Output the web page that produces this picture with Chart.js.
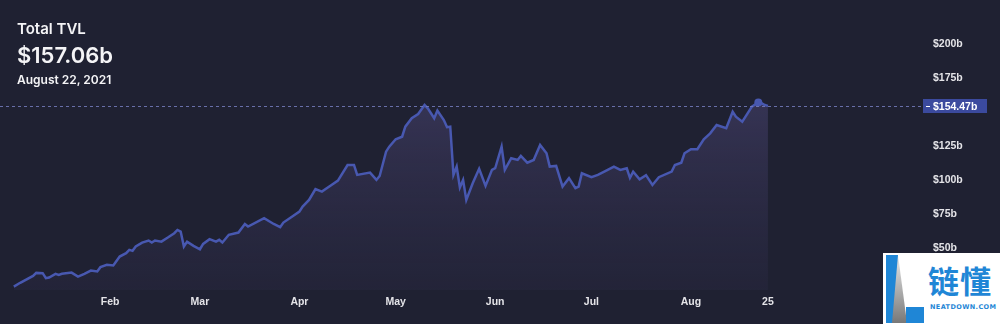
<!DOCTYPE html>
<html>
<head>
<meta charset="utf-8">
<script src="https://cdn.jsdelivr.net/npm/chart.js@4.4.0/dist/chart.umd.min.js"></script>
<style>
  html, body { margin: 0; padding: 0; background: #1f2132; }
  #wrap { position: relative; width: 1000px; height: 324px; overflow: hidden; background: #1f2132; }
  #tvlChart { position: absolute; left: 0; top: 0; }
  .head { position: absolute; left: 17px; color: #f4f4f6; font-family: Inter, "Noto Sans", sans-serif; line-height: 1; white-space: nowrap; }
  #t1 { top: 21px; font-size: 15px; font-weight: 600; }
  #t2 { top: 44px; font-size: 22px; font-weight: 600; }
  #t3 { top: 74px; font-size: 12px; font-weight: 600; }
  #mark { position: absolute; left: 883px; top: 253px; width: 117px; height: 71px; background: #fff; }
  #mark svg { position: absolute; left: 0; top: 0; }
  #mark .cn { position: absolute; left: 45px; top: 11px; font-family: "Noto Sans CJK SC", sans-serif; font-weight: 700; font-size: 31px; line-height: 1; color: #1f86d6; letter-spacing: 1px; }
  #mark .en { position: absolute; left: 47px; top: 51px; font-family: "DejaVu Sans", sans-serif; font-weight: 700; font-size: 6.5px; line-height: 1; color: #1f86d6; letter-spacing: 0.4px; }
</style>
</head>
<body>
<div id="wrap">
  <canvas id="tvlChart" width="1000" height="324"></canvas>
  <div class="head" id="t1">Total TVL</div>
  <div class="head" id="t2">$157.06b</div>
  <div class="head" id="t3">August 22, 2021</div>
  <div id="mark">
    <svg width="44" height="71" viewBox="0 0 44 71">
      <defs>
        <linearGradient id="g" x1="0" y1="0" x2="0" y2="1">
          <stop offset="0" stop-color="#e8e8e8"/>
          <stop offset="1" stop-color="#787878"/>
        </linearGradient>
      </defs>
      <rect x="3" y="2" width="12" height="68" fill="#1f86d6"/>
      <polygon points="15,2 24,70 9,70" fill="url(#g)"/>
      <rect x="23" y="54" width="18" height="16" fill="#1f86d6"/>
    </svg>
    <div class="cn">链懂</div>
    <div class="en">NEATDOWN.COM</div>
  </div>
</div>
<script>
// days since 2021-01-01, TVL in $b
const days = [
  1, 3, 7, 8, 10, 11, 12, 14, 15, 16, 19, 21, 23, 25, 27, 28, 30, 32, 34, 36,
  37, 38, 39, 41, 43, 44, 45, 47, 49, 51, 52, 53, 54, 55, 57, 59, 60, 62, 64, 65,
  66, 68, 71, 73, 74, 79, 82, 84, 85, 88, 90, 91, 93, 95, 97, 100, 102, 105, 107, 108,
  112, 114, 115, 117, 118, 120, 122, 123, 125, 127, 129, 130, 132, 133, 135, 136, 137, 138, 139, 140,
  141, 142, 144, 146, 148, 150, 151, 153, 154, 156, 158, 159, 161, 163, 165, 167, 168, 170, 172, 174,
  176, 177, 178, 181, 183, 185, 188, 190, 192, 193, 194, 196, 198, 200, 202, 206, 207, 209, 210, 212,
  214, 216, 218, 220, 223, 225, 226, 228, 231, 233, 234, 235, 236
];
const tvl = [
  21.5, 24.3, 29.4, 31.6, 31.4, 27.7, 28.2, 30.9, 30.1, 30.9, 31.8, 28.9, 30.9, 33.3, 32.6, 35.8, 37.5, 37.0, 43.6, 46.1,
  48.5, 47.8, 51.0, 53.9, 55.4, 53.9, 55.4, 54.6, 57.6, 60.8, 63.2, 62.0, 51.0, 54.6, 51.5, 49.0, 52.9, 56.4, 54.6, 55.9,
  53.9, 59.6, 61.3, 67.6, 65.7, 71.8, 67.6, 65.2, 68.6, 73.5, 76.7, 80.4, 85.3, 93.2, 91.4, 96.3, 99.5, 111.0, 111.0, 103.7,
  105.4, 100.0, 102.9, 120.8, 124.5, 129.9, 131.8, 139.2, 145.4, 148.5, 155.1, 152.7, 145.4, 151.0, 144.1, 138.8, 139.2, 103.7, 109.8, 94.5,
  100.0, 85.3, 97.6, 108.2, 95.6, 107.4, 108.6, 124.5, 107.4, 116.0, 114.7, 117.6, 112.7, 114.7, 125.7, 119.6, 109.8, 110.3, 95.1, 101.3,
  93.9, 95.1, 104.9, 102.0, 103.7, 106.1, 109.8, 107.4, 108.6, 101.5, 106.1, 100.4, 103.5, 96.3, 102.0, 106.1, 111.0, 112.7, 119.6, 122.6,
  122.6, 129.9, 134.3, 140.4, 138.0, 150.2, 146.5, 142.9, 153.9, 157.06, 156.5, 155.1, 154.47
];
const xTickDays = [31, 59, 90, 120, 151, 181, 212, 236];
const xTickLabels = ["Feb", "Mar", "Apr", "May", "Jun", "Jul", "Aug", "25"];
const yTickValues = [50, 75, 100, 125, 175, 200];
const hoverDay = 233;
const lastValue = tvl[tvl.length - 1];

const priceLine = {
  id: "priceLine",
  afterDatasetsDraw(chart) {
    const { ctx, chartArea, scales } = chart;
    const y = Math.round(scales.y.getPixelForValue(lastValue)) + 0.5;
    ctx.save();
    ctx.strokeStyle = "rgba(118, 124, 190, 0.85)";
    ctx.lineWidth = 1;
    ctx.setLineDash([3, 3]);
    ctx.beginPath();
    ctx.moveTo(chartArea.left, y);
    ctx.lineTo(chartArea.right, y);
    ctx.stroke();
    ctx.setLineDash([]);
    const bx = chartArea.right + 1;
    ctx.fillStyle = "#3b4a9e";
    ctx.fillRect(bx, y - 7.5, 64, 14);
    ctx.strokeStyle = "#ffffff";
    ctx.beginPath();
    ctx.moveTo(bx + 3, y);
    ctx.lineTo(bx + 7, y);
    ctx.stroke();
    ctx.fillStyle = "#ffffff";
    ctx.font = "bold 10.5px 'Liberation Sans', sans-serif";
    ctx.textBaseline = "middle";
    ctx.fillText("$" + lastValue.toFixed(2) + "b", bx + 10, y + 0.5);
    ctx.restore();
  },
};

new Chart(document.getElementById("tvlChart"), {
  type: "line",
  data: {
    datasets: [
      {
        data: days.map((d, i) => ({ x: d, y: tvl[i] })),
        borderColor: "#4858b0",
        borderWidth: 2.5,
        tension: 0,
        fill: "start",
        backgroundColor: (context) => {
          const { ctx, chartArea } = context.chart;
          if (!chartArea) return null;
          const g = ctx.createLinearGradient(0, chartArea.top, 0, chartArea.bottom);
          g.addColorStop(0, "rgba(108, 98, 165, 0.5)");
          g.addColorStop(1, "rgba(62, 56, 96, 0.15)");
          return g;
        },
        pointRadius: (c) => (days[c.dataIndex] === hoverDay ? 4 : 0),
        pointBackgroundColor: "#4858b0",
        pointBorderWidth: 0,
      },
    ],
  },
  options: {
    responsive: false,
    animation: false,
    devicePixelRatio: 1,
    layout: { padding: 0 },
    plugins: {
      legend: { display: false },
      tooltip: { enabled: false },
    },
    scales: {
      x: {
        type: "linear",
        min: -3.3,
        max: 284,
        grid: { display: false, drawTicks: false },
        border: { display: false },
        afterBuildTicks: (scale) => {
          scale.ticks = xTickDays.map((v) => ({ value: v }));
        },
        afterFit: (scale) => {
          scale.height = 34;
          scale.paddingLeft = 0;
          scale.paddingRight = 0;
        },
        ticks: {
          autoSkip: false,
          maxRotation: 0,
          padding: 6,
          color: "#e4e4e8",
          font: { family: "'Liberation Sans', sans-serif", size: 10.5, weight: "bold" },
          callback: (v) => xTickLabels[xTickDays.indexOf(v)],
        },
      },
      y: {
        position: "right",
        min: 19,
        max: 232.4,
        grid: { display: false, drawTicks: false },
        border: { display: false },
        afterBuildTicks: (scale) => {
          scale.ticks = yTickValues.map((v) => ({ value: v }));
        },
        afterFit: (scale) => {
          scale.width = 78;
          scale.paddingTop = 0;
          scale.paddingBottom = 0;
        },
        ticks: {
          autoSkip: false,
          padding: 11,
          color: "#e4e4e8",
          font: { family: "'Liberation Sans', sans-serif", size: 10.5, weight: "bold" },
          callback: (v) => "$" + v + "b",
        },
      },
    },
  },
  plugins: [priceLine],
});
</script>
</body>
</html>
